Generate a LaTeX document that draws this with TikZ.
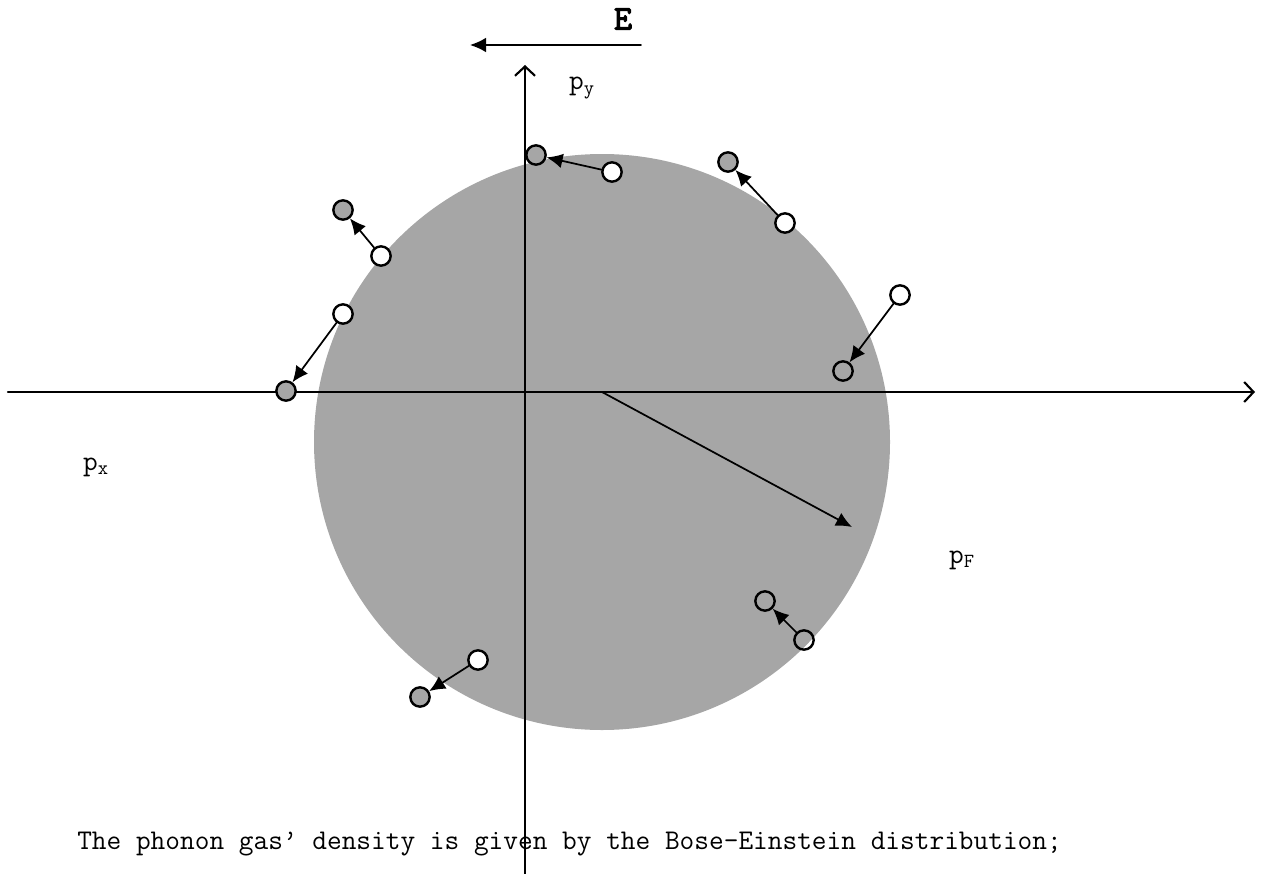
\documentclass[tikz,border=0pt]{standalone}
\usepackage{fontspec}
\newfontfamily\fieldfont[FakeBold=3]{lmmono10-regular.otf}
\usetikzlibrary{arrows.meta}
\definecolor{sphere}{RGB}{166,166,166}
\tikzset{
  hole/.style={circle, draw, line width=1.8pt, fill=white, minimum size=14.5pt, inner sep=0pt},
  elec/.style={hole, fill=sphere},
  ring/.style={hole, fill=none},
  hop/.style={line width=1.3pt, -{Latex[length=12pt,width=11pt]}},
  axis/.style={line width=1.6pt, -{Straight Barb[length=7pt,width=15pt,line width=1.6pt]}},
  lbl/.style={font=\ttfamily\fontsize{21.4}{25}\selectfont}
}
\begin{document}
\begin{tikzpicture}[x=0.75pt, y=-0.75pt, line cap=round, line join=round]
    \useasboundingbox (0,0) rectangle (1267,874);
    % Fermi sphere
    \fill[sphere] (602,442) circle (288);
    % axes
    \coordinate (xl) at (8,392);
    \coordinate (xr) at (1255,392);
    \coordinate (yb) at (525,874);
    \coordinate (yt) at (525,65);
    \draw[axis] (xl) -- (xr);
    \draw[axis] (yb) -- (yt);
    \node[lbl] (py) at (582,88) {p\textsubscript{y}};
    \node[lbl] (px) at (96,467) {p\textsubscript{x}};
    \node[lbl] (pf) at (962,560) {p\textsubscript{F}};
    % field
    \coordinate (e1) at (641,45);
    \coordinate (e2) at (470,45);
    \draw[hop] (e1) -- (e2);
    \node[font=\fieldfont\fontsize{26}{30}\selectfont] (E) at (623,19) {E};
    % Fermi momentum
    \coordinate (o) at (602,392);
    \coordinate (f) at (852,527);
    \draw[hop] (o) -- (f);
    % scattered states
    \foreach \n/\wx/\wy/\gx/\gy in {1/612/172/536/155, 2/785/223/728/162, 3/381/256/343/210,
        4/343/314/286/391, 5/900/295/843/371, 6/478/660/420/697} {
      \node[hole] (w\n) at (\wx,\wy) {};
      \node[elec] (g\n) at (\gx,\gy) {};
      \draw[hop] (w\n) -- (g\n);
    }
    \node[ring] (w7) at (804,640) {};
    \node[ring] (g7) at (765,601) {};
    \draw[hop] (w7) -- (g7);
    % caption
    \node[lbl, anchor=west, inner sep=0pt] (cap) at (77,844) {The phonon gas’ density is given by the Bose-Einstein distribution;};
  \end{tikzpicture}
\end{document}
